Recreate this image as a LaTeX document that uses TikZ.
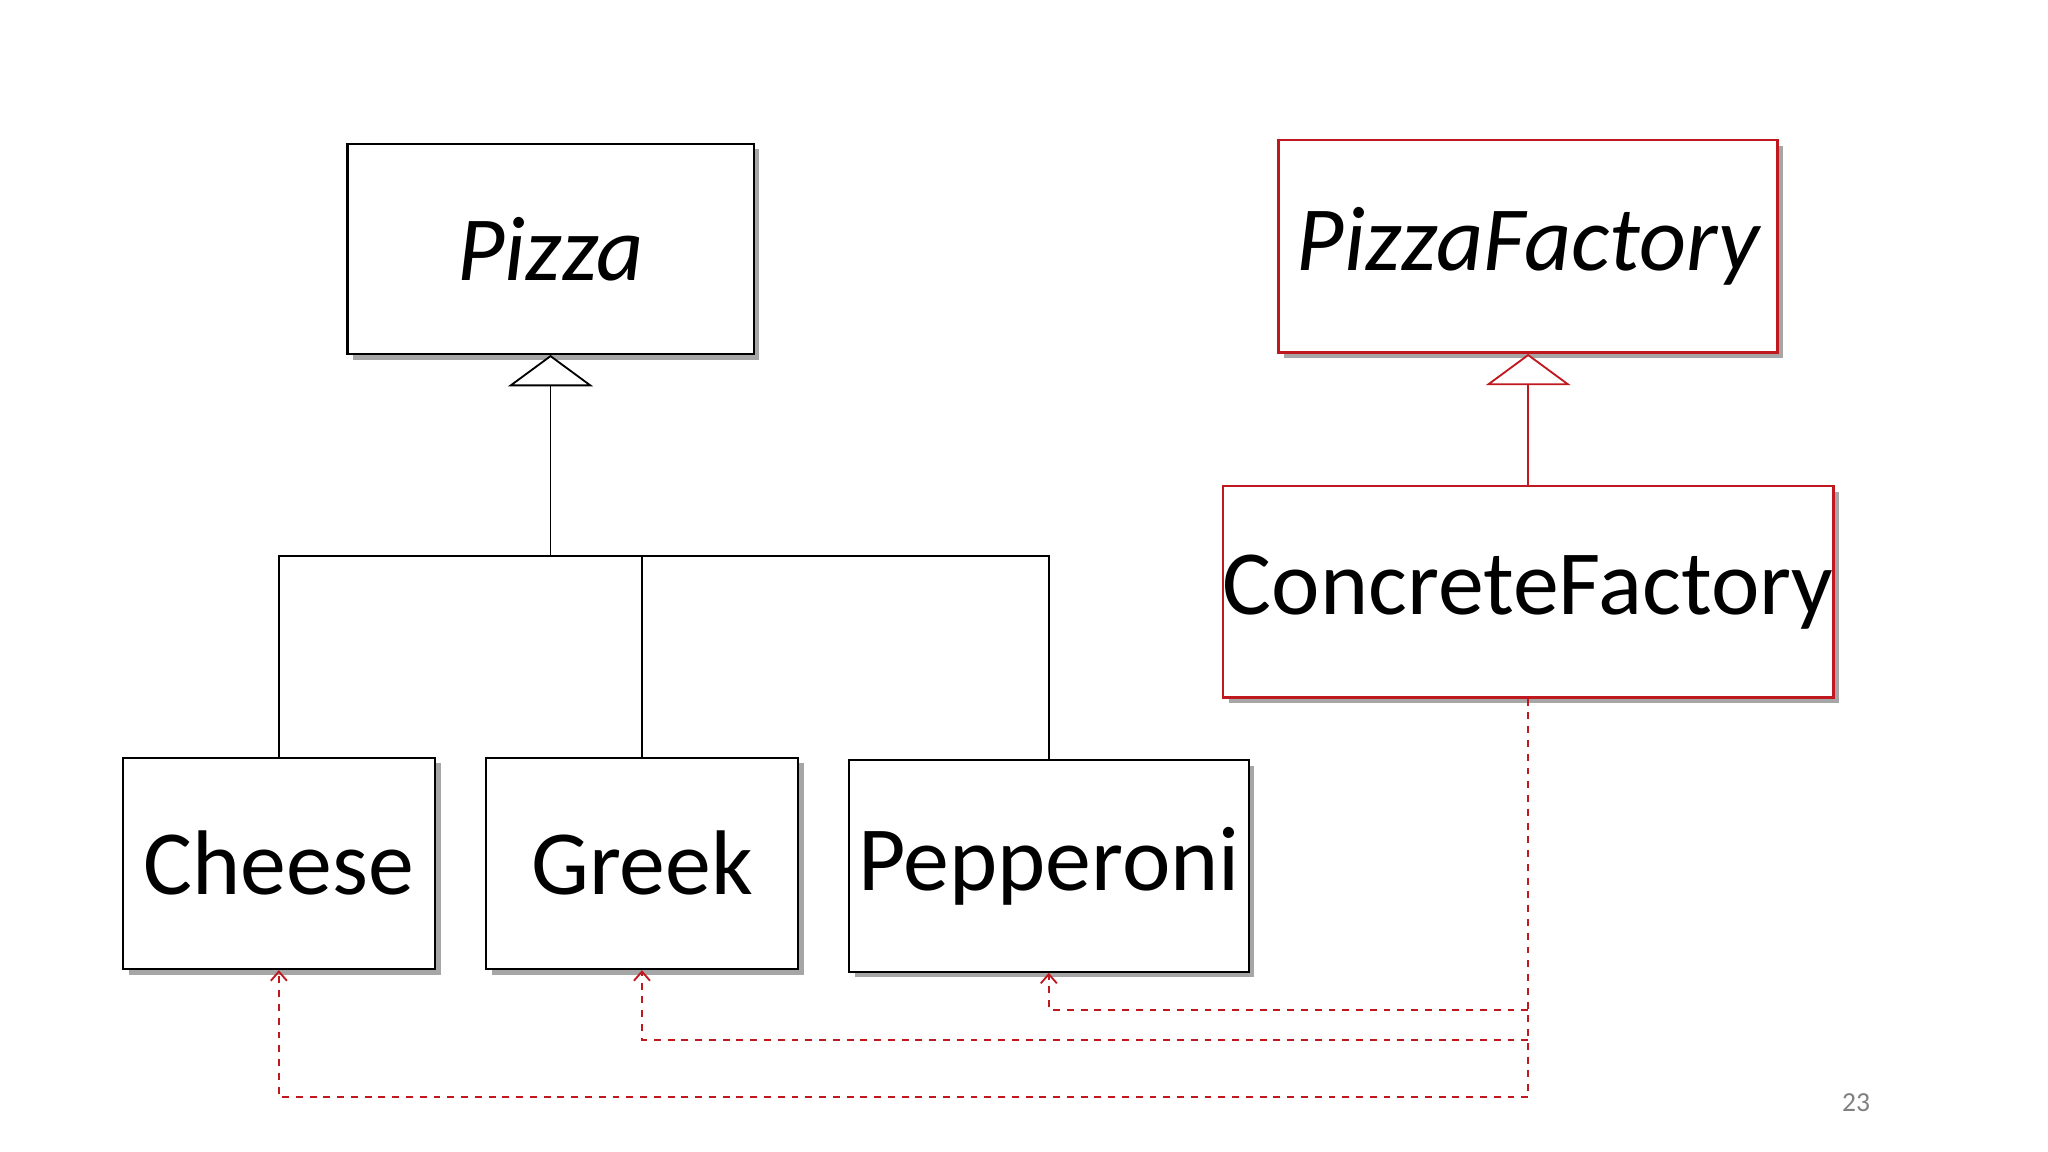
\documentclass[tikz,border=0pt]{standalone}
\usepackage{fontspec}
\setmainfont{Carlito}
\usetikzlibrary{arrows.meta,shadows,positioning}
\definecolor{umlred}{rgb}{.75,.1,.12}
\begin{document}
\begin{tikzpicture}[% coordinates in pixels of the slide, y downwards
			x=0.02cm,y=-0.02cm,
			box/.style={
				rectangle,draw=black,fill=white,line width=0.9pt,
				inner sep=0pt,align=center,
				font=\fontsize{40}{48}\selectfont,
				drop shadow={shadow xshift=2.5pt,shadow yshift=-2.5pt,fill=black,opacity=.35}
			},
			redbox/.style={box,draw=umlred,line width=1.1pt},
			inherit/.style={-{Triangle[open,length=0.48cm,width=1.3cm,fill=white]},line width=0.8pt},
			create/.style={-{Straight Barb[length=4pt,width=7pt]},dashed,draw=umlred,line width=0.8pt}
		]
		\useasboundingbox[fill=white] (0,0) rectangle (1568,882);
		% classes
		\node[box,minimum width=6.22cm,minimum height=3.22cm](Pizza) at (421.5,190.5){\itshape Pizza};
		\node[redbox,minimum width=7.64cm,minimum height=3.26cm](Factory) at (1170,188.5){\itshape PizzaFactory};
		\node[redbox,minimum width=9.16cm,minimum height=3.24cm](Concrete) at (1170,453){ConcreteFactory};
		\node[box,minimum width=4.78cm,minimum height=3.24cm](Cheese) at (213.5,661){Cheese};
		\node[box,minimum width=4.78cm,minimum height=3.24cm](Greek) at (491.5,661){Greek};
		\node[box,minimum width=6.12cm,minimum height=3.24cm](Pepperoni) at (803,663){Pepperoni};
		\node[text=black!50,font=\fontsize{12}{14}\selectfont](Page) at (1421,844){23};
		% generalisation
		\coordinate (split) at (421.5,426);
		\draw[line width=0.8pt] (Cheese.north) |- (split);
		\draw[line width=0.8pt] (Greek.north) |- (split);
		\draw[line width=0.8pt] (Pepperoni.north) |- (split);
		\draw[inherit] (split) -- (Pizza.south);
		\draw[inherit,draw=umlred] (Concrete.north) -- (Factory.south);
		% creation
		\coordinate (d1) at (1170,773);
		\coordinate (d2) at (1170,796);
		\coordinate (d3) at (1170,840);
		\draw[dashed,draw=umlred,line width=0.8pt] (Concrete.south) -- (d3);
		\draw[create] (d1) -| (Pepperoni.south);
		\draw[create] (d2) -| (Greek.south);
		\draw[create] (d3) -| (Cheese.south);
	\end{tikzpicture}
\end{document}
